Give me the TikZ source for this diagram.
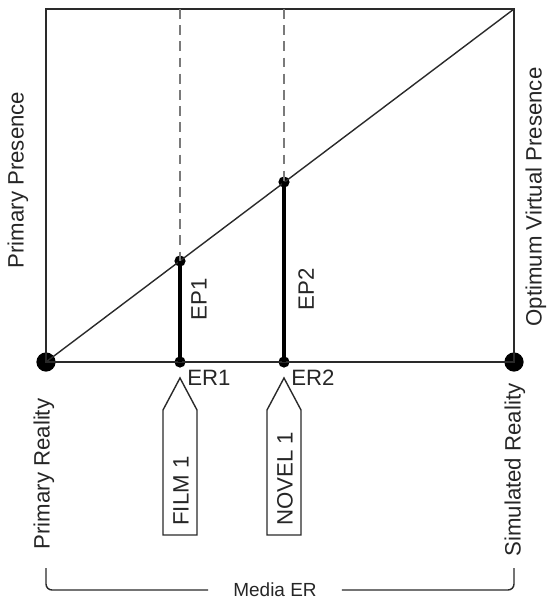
\documentclass[tikz,border=0pt]{standalone}
\usepackage{fontspec}
\setmainfont{Liberation Sans}
\definecolor{linegray}{HTML}{2A2A2A}
\definecolor{dashgray}{HTML}{7A7A7A}
\tikzset{
  dot/.style={circle, fill=black, inner sep=0pt, minimum size=0.28cm},
  bigdot/.style={circle, fill=black, inner sep=0pt, minimum size=0.48cm},
  thin line/.style={draw=linegray, line width=1pt},
  ep line/.style={draw=black, line width=2.4pt},
  guide/.style={draw=dashgray, line width=1pt, dash pattern=on 7pt off 4.5pt},
  tag/.style={draw=linegray, line width=1pt, fill=white},
  lbl/.style={font=\fontsize{15.8}{18}\selectfont, text=black!85, inner sep=0pt}
}
\begin{document}
\begin{tikzpicture}[x=0.025cm, y=-0.025cm]
        \useasboundingbox (0,0) rectangle (554,599);

        % Esquinas del cuadro
        \coordinate (tl) at (46,9);
        \coordinate (tr) at (514,9);
        \coordinate (top1) at (180,9);
        \coordinate (top2) at (284,9);

        % Puntos sobre la base y la diagonal
        \node[bigdot] (pr) at (46,362) {};
        \node[bigdot] (sr) at (514,362) {};
        \node[dot] (er1) at (180,362) {};
        \node[dot] (er2) at (284,362) {};
        \node[dot] (ep1) at (180,261) {};
        \node[dot] (ep2) at (284,182) {};

        % Cuadro y diagonal
        \draw[thin line] (pr.center) -- (tl) -- (tr) -- (sr.center) -- cycle;
        \draw[thin line] (pr.center) -- (tr);

        % Rectas punteadas hasta arriba
        \draw[guide] (top1) -- (ep1.center);
        \draw[guide] (top2) -- (ep2.center);

        % EP1 y EP2
        \draw[ep line] (er1.center) -- (ep1.center);
        \draw[ep line] (er2.center) -- (ep2.center);

        % Textos de los lados
        \node[lbl, rotate=90] (ppres) at (18,180) {Primary Presence};
        \node[lbl, rotate=90] (ovpres) at (536,197) {Optimum Virtual Presence};
        \node[lbl, rotate=90] (ep1lbl) at (199,299) {EP1};
        \node[lbl, rotate=90] (ep2lbl) at (306,289) {EP2};
        \node[lbl, anchor=base west] (er1lbl) at (187,385) {ER1};
        \node[lbl, anchor=base west] (er2lbl) at (291,385) {ER2};
        \node[lbl, rotate=90] (preal) at (44,474) {Primary Reality};
        \node[lbl, rotate=90] (sreal) at (515,470) {Simulated Reality};

        % Flechas de los medios
        \draw[tag] (163,535) -- (163,410) -- (180,378) -- (197,410) -- (197,535) -- cycle;
        \draw[tag] (267,535) -- (267,410) -- (284,378) -- (301,410) -- (301,535) -- cycle;
        \node[lbl, rotate=90, anchor=west] (film) at (181,526) {FILM 1};
        \node[lbl, rotate=90, anchor=west] (novel) at (285,526) {NOVEL 1};

        % Llave inferior
        \coordinate (bl) at (46,568);
        \coordinate (br) at (514,568);
        \node[font=\fontsize{13.5}{16}\selectfont, text=black!85, inner xsep=0.62cm, inner ysep=0pt] (media) at (275,590) {Media ER};
        \draw[thin line, rounded corners=0.15cm] (bl) |- (media.west);
        \draw[thin line, rounded corners=0.15cm] (br) |- (media.east);
\end{tikzpicture}
\end{document}
